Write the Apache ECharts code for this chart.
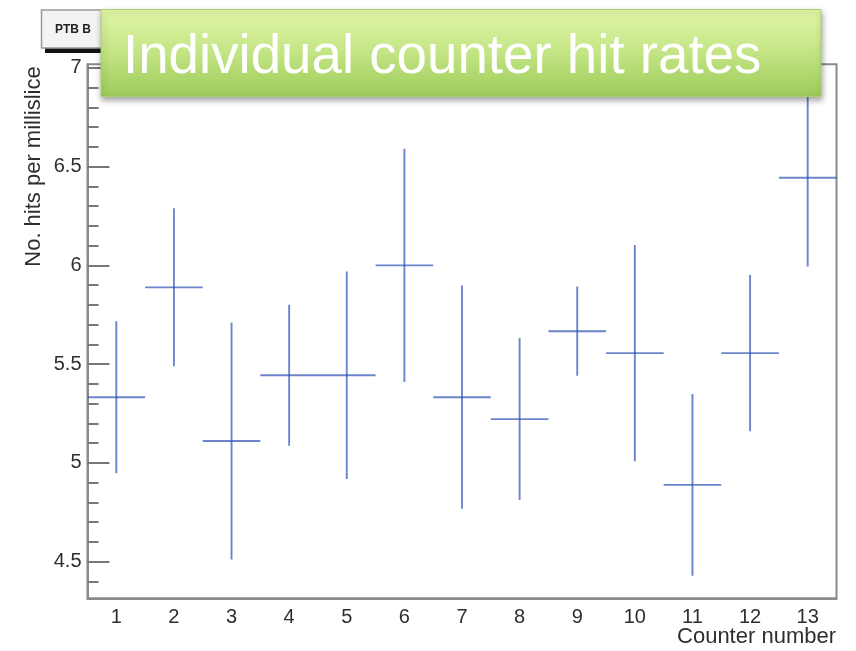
<!DOCTYPE html>
<html>
<head>
<meta charset="utf-8">
<script src="https://cdn.jsdelivr.net/npm/echarts@6/dist/echarts.min.js"></script>
<style>
html,body{margin:0;padding:0;background:#fff;}
#chart{width:856px;height:651px;}
</style>
</head>
<body>
<div id="chart"></div>
<script>
// ---- data ----
const counters = ['1','2','3','4','5','6','7','8','9','10','11','12','13'];
const rates    = [5.333, 5.889, 5.111, 5.444, 5.444, 6.000, 5.333, 5.222, 5.667, 5.556, 4.889, 5.556, 6.444];
const errors   = [0.385, 0.400, 0.600, 0.357, 0.525, 0.590, 0.565, 0.410, 0.226, 0.547, 0.460, 0.395, 0.450];
const yMajorTicks = [4.5, 5, 5.5, 6, 6.5, 7];
const yMinorTicks = [4.4, 4.6, 4.7, 4.8, 4.9, 5.1, 5.2, 5.3, 5.4, 5.6, 5.7, 5.8, 5.9, 6.1, 6.2, 6.3, 6.4, 6.6, 6.7, 6.8, 6.9];
const yMin = 4.315, yMax = 7.018;
const chartTitle = 'Individual counter hit rates';
const xTitle = 'Counter number';
const yTitle = 'No. hits per millislice';
const boxLabel = 'PTB B';

const seriesData = counters.map((c, i) => [i, rates[i], errors[i]]);

const chart = echarts.init(document.getElementById('chart'), null, {renderer: 'canvas'});
const axisGray = '#8a8a8a';
const labelColor = '#2e2e2e';
const font = 'Liberation Sans, Arial, Helvetica, sans-serif';

chart.setOption({
  animation: false,
  backgroundColor: '#ffffff',
  grid: {left: 87.5, right: 19.5, top: 64.3, bottom: 52.7, show: true, borderColor: axisGray, borderWidth: 2, backgroundColor: 'transparent'},
  xAxis: {
    type: 'category', data: counters, boundaryGap: true,
    axisLine: {lineStyle: {color: axisGray, width: 2}},
    axisTick: {inside: true, length: 16, lineStyle: {color: '#666', width: 1.5}},
    axisLabel: {margin: 9, fontSize: 20, color: labelColor, fontFamily: font},
    splitLine: {show: false}
  },
  yAxis: [{
    type: 'value', min: yMin, max: yMax,
    axisLine: {show: true, lineStyle: {color: axisGray, width: 2}},
    axisTick: {show: true, inside: true, length: 22, customValues: yMajorTicks, lineStyle: {color: '#777', width: 2}},
    axisLabel: {margin: 6, fontSize: 20, color: labelColor, fontFamily: font, customValues: yMajorTicks, formatter: v => String(v)},
    splitLine: {show: false}
  }, {
    type: 'value', min: yMin, max: yMax, position: 'left',
    axisLine: {show: false},
    axisTick: {show: true, inside: true, length: 11, customValues: yMinorTicks, lineStyle: {color: '#777', width: 2}},
    axisLabel: {show: false},
    splitLine: {show: false}
  }],
  series: [{
    type: 'custom',
    data: seriesData,
    clip: true,
    renderItem: function (params, api) {
      const x = api.value(0), y = api.value(1), e = api.value(2);
      const c = api.coord([x, y]);
      const hi = api.coord([x, y + e]);
      const lo = api.coord([x, y - e]);
      const w = api.size([1, 0])[0];
      const style = {stroke: 'rgba(45,80,180,0.7)', lineWidth: 1.9};
      return {
        type: 'group',
        children: [
          {type: 'line', shape: {x1: c[0], y1: hi[1], x2: c[0], y2: lo[1]}, style: style},
          {type: 'line', shape: {x1: c[0] - w / 2, y1: c[1], x2: c[0] + w / 2, y2: c[1]}, style: style}
        ]
      };
    }
  }],
  graphic: [
    {type: 'text', x: 34, y: 166.5, rotation: Math.PI / 2, z: 10,
     style: {text: yTitle, fontSize: 22, fill: labelColor, fontFamily: font, align: 'center', verticalAlign: 'middle'}},
    {type: 'text', x: 836, y: 637, z: 10,
     style: {text: xTitle, fontSize: 22, fill: labelColor, fontFamily: font, align: 'right', verticalAlign: 'middle'}},
    {type: 'rect', shape: {x: 45, y: 14, width: 60, height: 39}, z: 20, style: {fill: '#111'}},
    {type: 'rect', shape: {x: 41.5, y: 10, width: 62, height: 38}, z: 21, style: {fill: '#f3f3f3', stroke: '#9a9a9a', lineWidth: 1.5}},
    {type: 'text', x: 55, y: 30, z: 22,
     style: {text: boxLabel, fontSize: 12, fontWeight: 'bold', fill: '#222', fontFamily: font, align: 'left', verticalAlign: 'middle'}},
    {type: 'rect', shape: {x: 101, y: 9.5, width: 720, height: 87}, z: 30,
     style: {
       fill: new echarts.graphic.LinearGradient(0, 0, 0, 1, [
         {offset: 0, color: '#e2f7a8'}, {offset: 0.5, color: '#c3e484'}, {offset: 1, color: '#9ccb58'}
       ]),
       stroke: '#a9cf6c', lineWidth: 1,
       shadowBlur: 6, shadowColor: 'rgba(0,0,0,0.35)', shadowOffsetX: 1, shadowOffsetY: 3
     }},
    {type: 'text', x: 123, y: 58, z: 31,
     style: {text: chartTitle, fontSize: 54.7, fill: '#ffffff', fontFamily: font, align: 'left', verticalAlign: 'middle'}}
  ]
});
</script>
</body>
</html>
